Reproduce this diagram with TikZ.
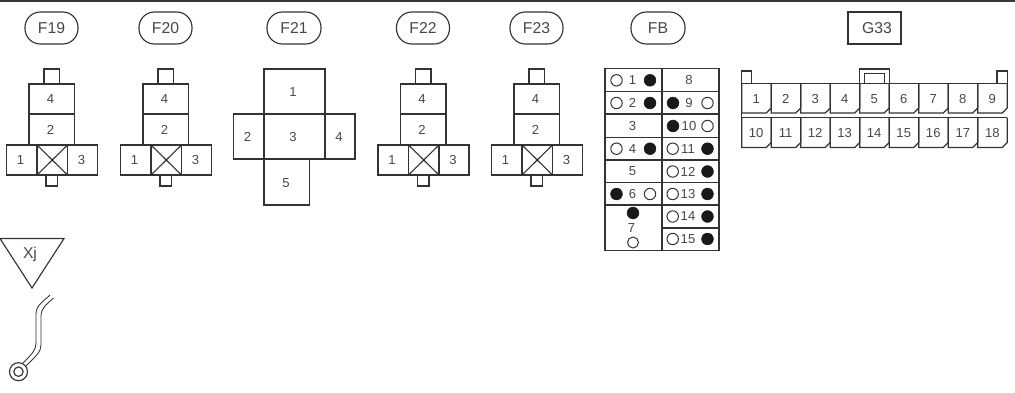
\documentclass[tikz,border=0pt]{standalone}
\usepackage{fontspec}
\setmainfont{Liberation Sans}
\begin{document}
\begin{tikzpicture}[x=0.75pt,y=-0.75pt,line join=miter,
  ln/.style={draw=black!80,line width=0.85pt},
  thin ln/.style={draw=black!80,line width=0.65pt},
  num/.style={inner sep=0pt,font=\fontsize{9.8}{10}\selectfont,text=black!72},
  tag/.style={inner sep=0pt,font=\fontsize{11.8}{12}\selectfont,text=black!72},
  pill/.style={ln,rounded corners=11.5pt},
  blk/.style={fill=black!90,draw=black!90,line width=0.4pt},
  opn/.style={draw=black!80,line width=0.75pt,fill=white}]
\useasboundingbox (0,0) rectangle (1015,393);
\fill[black!78] (0,0) rectangle (1015,2);
% four-way relay connector: #1 x offset, #2 name
\newcommand{\relayconn}[2]{
  \draw[pill] (#1+25,12) rectangle (#1+78,44);
  \node[tag] (n#2) at (#1+51.5,28) {F#2};
  \draw[ln] (#1+44,84) -- (#1+44,69) -- (#1+59.5,69) -- (#1+59.5,84);
  \draw[ln] (#1+29,84) rectangle (#1+74.5,114);
  \draw[ln] (#1+29,114) rectangle (#1+74.5,145);
  \draw[ln] (#1+6.5,145) rectangle (#1+97.5,175);
  \draw[ln] (#1+37,145) rectangle (#1+67.5,175);
  \draw[ln] (#1+37,145) -- (#1+67.5,175) (#1+37,175) -- (#1+67.5,145);
  \draw[ln] (#1+46,175) -- (#1+46,186) -- (#1+57.5,186) -- (#1+57.5,175);
  \node[num] (a#2) at (#1+50.5,99.5) {4};
  \node[num] (b#2) at (#1+50.5,130) {2};
  \node[num] (c#2) at (#1+20.5,160) {1};
  \node[num] (d#2) at (#1+81.5,160) {3};
}
\relayconn{0}{19}
\relayconn{114}{20}
\relayconn{371.5}{22}
\relayconn{485}{23}
% F21
\draw[pill] (267,12) rectangle (321,44);
\node[tag] (n21) at (294,28) {F21};
\draw[ln] (264,69) rectangle (325,114);
\draw[ln] (233.5,114) rectangle (355,159);
\draw[ln] (264,114) rectangle (325,159);
\draw[ln] (264,159) rectangle (309.5,205);
\node[num] (f1) at (293,92) {1};
\node[num] (f2) at (247.5,137) {2};
\node[num] (f3) at (293,137) {3};
\node[num] (f4) at (339,137) {4};
\node[num] (f5) at (286,183) {5};
% FB
\draw[pill] (631,12) rectangle (685,44);
\node[tag] (nFB) at (658,28) {FB};
\draw[ln] (605,68.5) rectangle (719,250.5);
\draw[ln] (662,68.5) -- (662,250.5);
\foreach \yy in {91.7,114,137.3,160,182.7,205}
  \draw[ln] (605,\yy) -- (719,\yy);
\draw[ln] (662,228) -- (719,228);
\newcommand{\fbrow}[6]{% x open, x filled, x num, y, text, name
  \draw[opn] (#1,#4) circle[radius=5.7];
  \fill[blk] (#2,#4) circle[radius=5.9];
  \node[num] (p#6) at (#3,#4) {#5};
}
\fbrow{616.5}{650}{632.5}{80.3}{1}{a}
\fbrow{616.5}{650}{632.5}{103}{2}{b}
\node[num] (p3) at (632.5,126) {3};
\fbrow{616.5}{650}{632.5}{148.7}{4}{c}
\node[num] (p5) at (632.5,171.5) {5};
\fbrow{650}{616.5}{632.5}{194}{6}{d}
\fill[blk] (633,213) circle[radius=5.9];
\node[num] (p7) at (631.5,228) {7};
\draw[opn] (633,242.5) circle[radius=5.5];
\node[num] (p8) at (689,80.3) {8};
\fbrow{707.5}{673}{689}{103}{9}{e}
\fbrow{707.5}{673}{689}{126}{10}{f}
\fbrow{672.7}{707.5}{688}{148.7}{11}{g}
\fbrow{672.7}{707.5}{688}{171.5}{12}{h}
\fbrow{672.7}{707.5}{688}{194}{13}{i}
\fbrow{672.7}{707.5}{688}{216.5}{14}{j}
\fbrow{672.7}{707.5}{688}{239}{15}{k}
% G33
\draw[ln] (848,12) rectangle (901,44);
\node[tag] (nG) at (877,28) {G33};
\draw[ln] (741.7,83.7) -- (741.7,71) -- (751.7,71) -- (751.7,83.7);
\draw[ln] (997,83.7) -- (997,71) -- (1007.3,71) -- (1007.3,83.7);
\draw[ln] (859.7,83.7) -- (859.7,69) -- (889.3,69) -- (889.3,83.7);
\draw[ln] (864.7,83.7) -- (864.7,73.7) -- (884.3,73.7) -- (884.3,83.7);
\draw[ln] (741.7,83.7) -- (1007.3,83.7);
\draw[ln,line width=1pt] (741.7,117.7) -- (1007.3,117.7);
\draw[ln] (741.7,83.7) -- (741.7,147.5);
\foreach \i in {1,...,9}{
  \pgfmathsetmacro{\xl}{741.7+(\i-1)*29.51}
  \pgfmathsetmacro{\xr}{\xl+29.51}
  \pgfmathtruncatemacro{\lo}{\i+9}
  \draw[ln] (\xl,83.7) -- (\xl,113) -- (\xr-5,113) -- (\xr,108) -- (\xr,83.7);
  \draw[ln] (\xl,117.7) -- (\xl,147.5) -- (\xr-5,147.5) -- (\xr,142.5) -- (\xr,117.7);
  \node[num] (u\i) at (\xl+14.5,99) {\i};
  \node[num] (l\i) at (\xl+14.5,133.3) {\lo};
}
% Xj
\draw[ln] (0,238.5) -- (64,238.5) -- (32,288) -- cycle;
\node[tag] (nX) at (30,254.5) {Xj};
\draw[thin ln] (53.5,298) .. controls (48,303) and (41,308) .. (41,316) -- (41,345) .. controls (41,352) and (36,356) .. (26,366);
\draw[thin ln] (50,295) .. controls (44,301) and (36,305) .. (36,314) -- (36,343) .. controls (36,350) and (32,354) .. (23,363);
\draw[ln,fill=white] (18.5,371.7) circle[radius=9];
\draw[ln] (18.5,371.7) circle[radius=4.7];
\end{tikzpicture}
\end{document}
